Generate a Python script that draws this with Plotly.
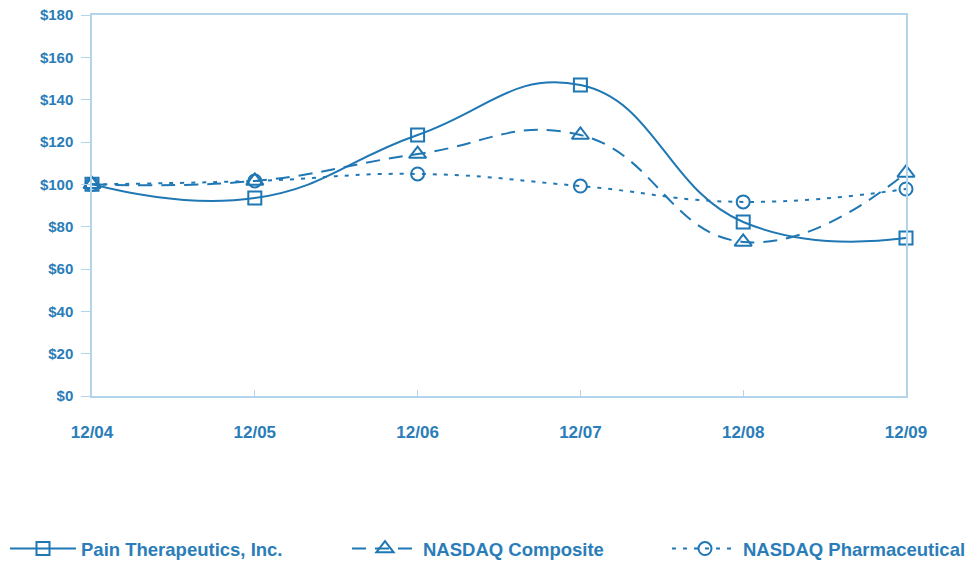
import plotly.graph_objects as go

periods = ["12/04", "12/05", "12/06", "12/07", "12/08", "12/09"]
pain_therapeutics = [100, 93.5, 123.3, 146.9, 82.2, 74.6]
nasdaq_composite = [100, 101.6, 114.3, 123.3, 72.8, 105.4]
nasdaq_pharma = [100, 101.6, 104.9, 99.2, 91.7, 97.8]

BLUE = "#1f77b4"
AXIS = "#b3d5ec"
TEXT = "#2a7db8"
FONT = "Liberation Sans, Arial, sans-serif"

fig = go.Figure()

series = [
    ("Pain Therapeutics, Inc.", pain_therapeutics, "solid", "square-open", 13, "legend"),
    ("NASDAQ Composite", nasdaq_composite, "14px,9px", "triangle-up-open", 15, "legend2"),
    ("NASDAQ Pharmaceutical", nasdaq_pharma, "4px,7px", "circle-open", 13, "legend3"),
]
for name, vals, dash, sym, msize, leg in series:
    fig.add_trace(go.Scatter(
        x=list(range(len(periods))), y=vals, name=name, mode="lines+markers",
        line=dict(color=BLUE, width=2, dash=dash, shape="spline", smoothing=1.3),
        marker=dict(symbol=sym, size=msize, color=BLUE, line=dict(width=2, color=BLUE)),
        cliponaxis=False, legend=leg, showlegend=True,
    ))

legend_common = dict(orientation="h", yanchor="middle", xanchor="left",
                     xref="container", yref="container", y=(562 - 549) / 562,
                     itemwidth=66, bgcolor="rgba(0,0,0,0)",
                     font=dict(family=FONT, size=18.5, color=TEXT, weight="bold"))

fig.update_layout(
    width=975, height=562,
    margin=dict(l=92, r=69, t=15, b=166),
    plot_bgcolor="white", paper_bgcolor="white",
    showlegend=True,
    font=dict(family=FONT, color=TEXT, size=15, weight="bold"),
    xaxis=dict(
        range=[0, 5], tickmode="array", tickvals=list(range(len(periods))), ticktext=periods,
        showgrid=False, zeroline=False, showline=True, linecolor=AXIS, linewidth=1.5,
        mirror=True, ticks="inside", ticklen=6, tickcolor=AXIS, ticklabelstandoff=20,
        tickfont=dict(family=FONT, size=17, color=TEXT, weight="bold"), automargin=False,
    ),
    yaxis=dict(
        range=[0, 180], dtick=20, tickprefix="$",
        showgrid=False, zeroline=False, showline=True, linecolor=AXIS, linewidth=1.5,
        mirror=True, ticks="outside", ticklen=9, tickcolor=AXIS, ticklabelstandoff=5,
        tickfont=dict(family=FONT, size=15, color=TEXT, weight="bold"), automargin=False,
    ),
    legend=dict(x=5 / 975, **legend_common),
    legend2=dict(x=347 / 975, **legend_common),
    legend3=dict(x=667 / 975, **legend_common),
)

fig.write_html("out.html")
